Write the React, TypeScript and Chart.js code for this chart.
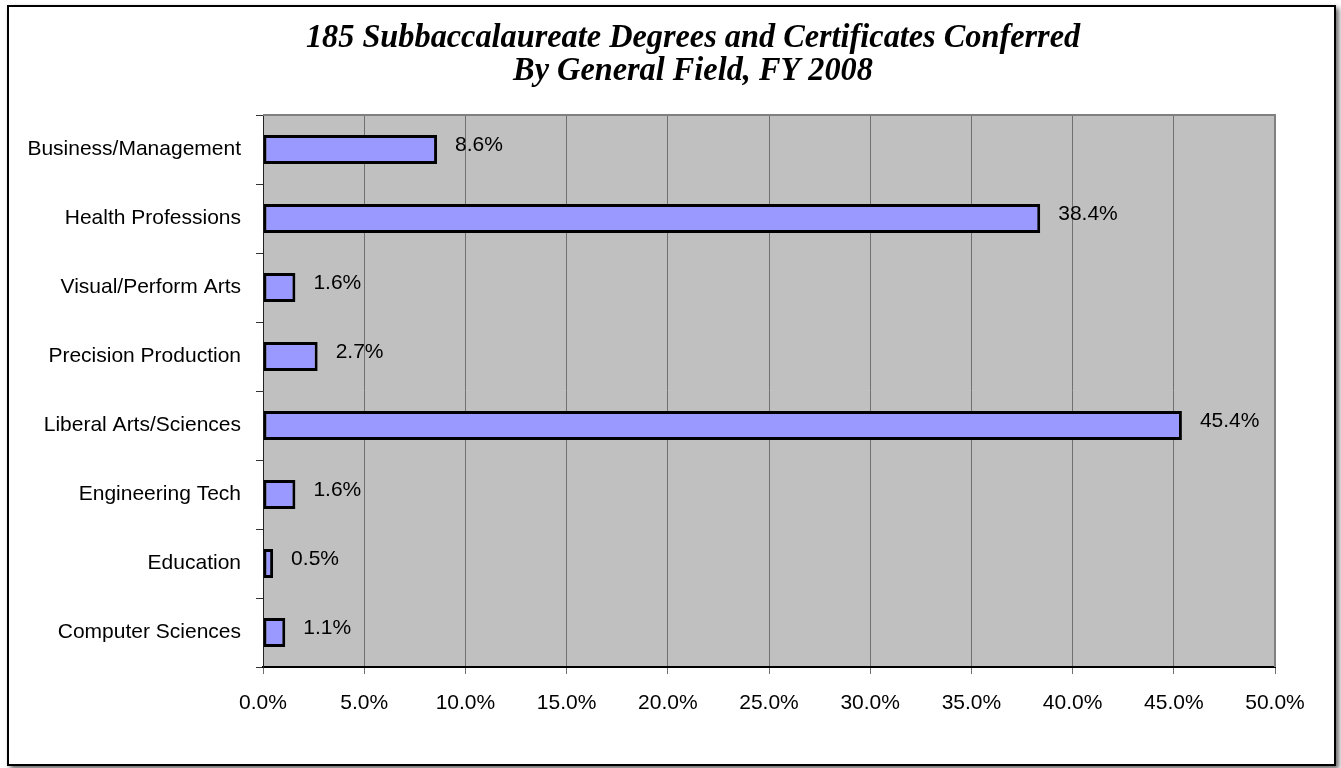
import React, { useEffect, useRef } from "react";
import { Chart, registerables } from "chart.js";

Chart.register(...registerables);

const categories = [
  "Business/Management",
  "Health Professions",
  "Visual/Perform Arts",
  "Precision Production",
  "Liberal Arts/Sciences",
  "Engineering Tech",
  "Education",
  "Computer Sciences",
];
const percentValues = [8.6, 38.4, 1.6, 2.7, 45.4, 1.6, 0.5, 1.1];
const titleLines = [
  "185 Subbaccalaureate Degrees and Certificates Conferred",
  "By General Field, FY 2008",
];
const axisMin = 0;
const axisMax = 50;
const axisStep = 5;

const W = 1341;
const H = 768;
const SANS = "'Liberation Sans', Arial, sans-serif";

const plotBgPlugin = {
  id: "plotBg",
  beforeDraw(chart: any) {
    const { ctx, chartArea: a } = chart;
    ctx.save();
    ctx.fillStyle = "#C0C0C0";
    ctx.fillRect(a.left, a.top, a.right - a.left, a.bottom - a.top);
    ctx.restore();
  },
  beforeDatasetsDraw(chart: any) {
    const { ctx, chartArea: a } = chart;
    ctx.save();
    ctx.strokeStyle = "#808080";
    ctx.lineWidth = 2;
    ctx.beginPath();
    ctx.moveTo(a.left, a.top);
    ctx.lineTo(a.right, a.top);
    ctx.lineTo(a.right, a.bottom);
    ctx.stroke();
    ctx.restore();
  },
};

const titlePlugin = {
  id: "titleLines",
  afterDraw(chart: any) {
    const { ctx } = chart;
    ctx.save();
    ctx.fillStyle = "#000";
    ctx.font = "italic bold 34px 'Liberation Serif', 'Times New Roman', serif";
    ctx.textAlign = "center";
    ctx.textBaseline = "middle";
    const cx = 693;
    titleLines.forEach((t, i) => {
      ctx.save();
      ctx.translate(cx, 38 + i * 33);
      ctx.scale(0.95, 1);
      ctx.fillText(t, 0, 0);
      ctx.restore();
    });
    ctx.restore();
  },
};

const valueLabelPlugin = {
  id: "valueLabels",
  afterDatasetsDraw(chart: any) {
    const { ctx } = chart;
    const meta = chart.getDatasetMeta(0);
    ctx.save();
    ctx.fillStyle = "#000";
    ctx.font = `21px ${SANS}`;
    ctx.textAlign = "left";
    ctx.textBaseline = "middle";
    meta.data.forEach((bar: any, i: number) => {
      const v = percentValues[i];
      ctx.fillText(v.toFixed(1) + "%", bar.x + 18, bar.y - 4);
    });
    ctx.restore();
  },
};

export default function App() {
  const ref = useRef<HTMLCanvasElement | null>(null);

  useEffect(() => {
    if (!ref.current) return;
    const chart = new Chart(ref.current, {
      type: "bar",
      data: {
        labels: categories,
        datasets: [
          {
            data: percentValues,
            backgroundColor: "#9999FF",
            borderColor: "#000000",
            borderWidth: 3,
            borderSkipped: false,
            barPercentage: 0.42,
            categoryPercentage: 1,
          },
        ],
      },
      options: {
        indexAxis: "y",
        animation: false,
        responsive: false,
        maintainAspectRatio: false,
        layout: { padding: { top: 115, right: 66, left: 0, bottom: 0 } },
        plugins: {
          legend: { display: false },
          title: { display: false },
          tooltip: { enabled: false },
        },
        scales: {
          x: {
            type: "linear",
            position: "bottom",
            min: axisMin,
            max: axisMax,
            ticks: {
              stepSize: axisStep,
              color: "#000",
              font: { family: SANS, size: 21 },
              padding: 17,
              callback: (v: any) => Number(v).toFixed(1) + "%",
            },
            grid: {
              color: "#707070",
              lineWidth: 1,
              tickLength: 7,
              tickColor: "#707070",
            },
            border: { color: "#000", width: 2 },
            afterFit: (s: any) => {
              s.height = H - 667;
            },
          },
          y: {
            type: "category",
            offset: true,
            ticks: {
              color: "#000",
              font: { family: SANS, size: 21 },
              padding: 15,
            },
            grid: {
              offset: true,
              drawOnChartArea: false,
              tickLength: 7,
              tickColor: "#333",
            },
            border: { color: "#222", width: 1 },
            afterFit: (s: any) => {
              s.width = 263;
            },
          },
        },
      },
      plugins: [plotBgPlugin, titlePlugin, valueLabelPlugin],
    });
    return () => chart.destroy();
  }, []);

  return (
    <div
      style={{
        position: "fixed",
        left: 0,
        top: 0,
        width: W,
        height: H,
        background: "#fff",
        overflow: "hidden",
      }}
    >
      <canvas ref={ref} width={W} height={H} style={{ display: "block", width: W, height: H }} />
      <div
        style={{
          position: "absolute",
          left: 7,
          top: 5,
          width: 1329,
          height: 761,
          boxSizing: "border-box",
          border: "2px solid #000",
          boxShadow: "3px 3px 5px rgba(0,0,0,0.6)",
          pointerEvents: "none",
        }}
      />
    </div>
  );
}
